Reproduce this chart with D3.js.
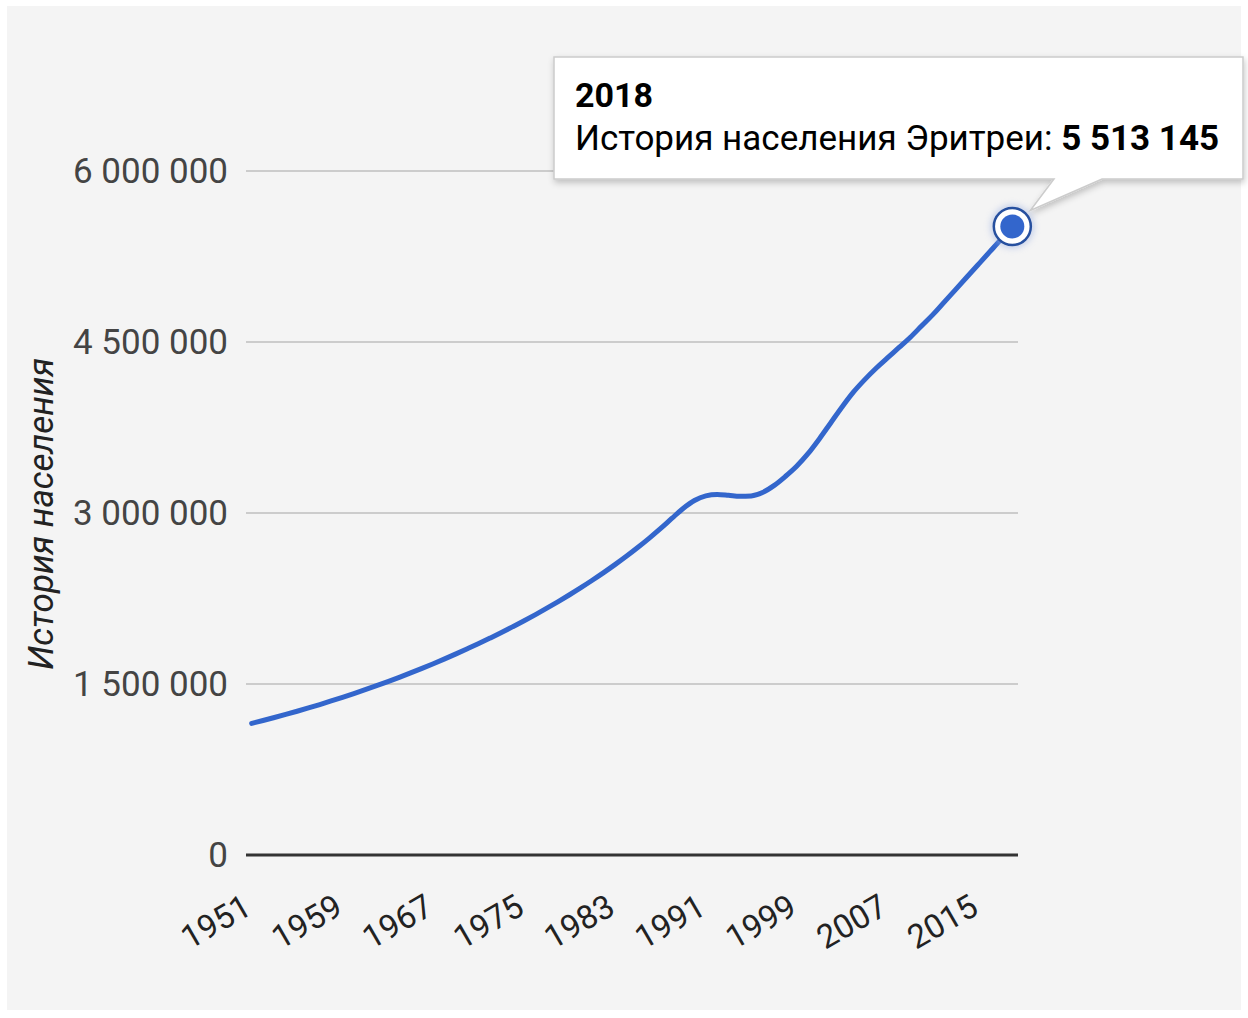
<!DOCTYPE html>
<html>
<head>
<meta charset="utf-8">
<script src="https://cdn.jsdelivr.net/npm/d3@7"></script>
<style>
  body { margin: 0; background: #ffffff; }
  text { font-family: Roboto, "Noto Sans", sans-serif; }
</style>
</head>
<body>
<svg id="chart" width="1248" height="1018"></svg>
<script>
const YEARS = d3.range(1951, 2019);
// population (one value per year 1951..2018)
const POPULATION = [
  1155000, 1180000, 1206000, 1233000, 1261000, 1290000, 1320000, 1351000, 1383000, 1416000,
  1450000, 1485000, 1521000, 1558000, 1597000, 1637000, 1678000, 1720000, 1764000, 1809000,
  1855000, 1903000, 1952000, 2003000, 2055000, 2109000, 2165000, 2223000, 2283000, 2345000,
  2410000, 2477000, 2547000, 2620000, 2697000, 2778000, 2863000, 2952000, 3040000, 3110000,
  3150000, 3162000, 3155000, 3146000, 3150000, 3180000, 3240000, 3320000, 3410000, 3520000,
  3650000, 3790000, 3930000, 4060000, 4170000, 4270000, 4360000, 4450000, 4540000, 4640000,
  4740000, 4850000, 4960000, 5070000, 5180000, 5290000, 5400000, 5513145
];
const Y_TICKS = [0, 1500000, 3000000, 4500000, 6000000];
const X_TICK_YEARS = [1951, 1959, 1967, 1975, 1983, 1991, 1999, 2007, 2015];
const Y_TITLE = "История населения";
const SERIES_NAME = "История населения Эритреи";
const HIGHLIGHT_YEAR = 2018;

const LINE_COLOR = "#3366cc";
const PLOT = { left: 246, right: 1018, top: 171, bottom: 855 };

const svg = d3.select("#chart");
const defs = svg.append("defs");

const shadow = defs.append("filter").attr("id", "shadow")
  .attr("x", "-10%").attr("y", "-20%").attr("width", "120%").attr("height", "150%");
shadow.append("feDropShadow")
  .attr("dx", 1).attr("dy", 3).attr("stdDeviation", 3)
  .attr("flood-color", "#000").attr("flood-opacity", 0.22);

const glow = defs.append("filter").attr("id", "glow")
  .attr("x", "-50%").attr("y", "-50%").attr("width", "200%").attr("height", "200%");
glow.append("feGaussianBlur").attr("stdDeviation", 3);

// background panel
svg.append("rect")
  .attr("x", 7).attr("y", 6).attr("width", 1234).attr("height", 1004)
  .attr("fill", "#f4f4f4");

const data = YEARS.map((year, i) => ({ year, value: POPULATION[i] }));

const x = d3.scalePoint()
  .domain(YEARS)
  .range([PLOT.left, PLOT.right])
  .padding(0.5);

const y = d3.scaleLinear()
  .domain([0, 6000000])
  .range([PLOT.bottom, PLOT.top]);

const locale = d3.formatLocale({ decimal: ",", thousands: " ", grouping: [3], currency: ["", ""] });
const fmt = locale.format(",d");

// gridlines
svg.append("g")
  .selectAll("line")
  .data(Y_TICKS.filter((d) => d !== 0))
  .enter()
  .append("line")
  .attr("x1", PLOT.left).attr("x2", PLOT.right)
  .attr("y1", (d) => y(d)).attr("y2", (d) => y(d))
  .attr("stroke", "#cccccc")
  .attr("stroke-width", 2);

// baseline
svg.append("line")
  .attr("x1", PLOT.left).attr("x2", PLOT.right)
  .attr("y1", y(0)).attr("y2", y(0))
  .attr("stroke", "#333333")
  .attr("stroke-width", 3);

// y tick labels
svg.append("g")
  .selectAll("text")
  .data(Y_TICKS)
  .enter()
  .append("text")
  .attr("x", 228)
  .attr("y", (d) => y(d) + 12)
  .attr("text-anchor", "end")
  .attr("font-size", "35px")
  .attr("fill", "#444444")
  .text((d) => fmt(d));

// y title
svg.append("text")
  .attr("transform", `translate(53, ${(360 + 668) / 2}) rotate(-90)`)
  .attr("text-anchor", "middle")
  .attr("font-size", "35px")
  .attr("font-style", "italic")
  .attr("fill", "#222222")
  .text(Y_TITLE);

// x tick labels, rotated
svg.append("g")
  .selectAll("text")
  .data(X_TICK_YEARS)
  .enter()
  .append("text")
  .attr("transform", (d) => `translate(${x(d) + 2}, 913) rotate(-30)`)
  .attr("text-anchor", "end")
  .attr("font-size", "33px")
  .attr("fill", "#222222")
  .text((d) => d);

// the line
const line = d3.line()
  .x((d) => x(d.year))
  .y((d) => y(d.value))
  .curve(d3.curveMonotoneX);

svg.append("path")
  .datum(data)
  .attr("d", line)
  .attr("fill", "none")
  .attr("stroke", LINE_COLOR)
  .attr("stroke-width", 5)
  .attr("stroke-linejoin", "round")
  .attr("stroke-linecap", "round");

// highlighted point
const hp = data.find((d) => d.year === HIGHLIGHT_YEAR);
const px = x(hp.year);
const py = y(hp.value);

svg.append("circle")
  .attr("cx", px).attr("cy", py).attr("r", 22)
  .attr("fill", "#9aaee0").attr("opacity", 0.5)
  .attr("filter", "url(#glow)");
svg.append("circle")
  .attr("cx", px).attr("cy", py).attr("r", 18.5)
  .attr("fill", "#ffffff")
  .attr("stroke", "#27509f")
  .attr("stroke-width", 2.5);
svg.append("circle")
  .attr("cx", px).attr("cy", py).attr("r", 12)
  .attr("fill", LINE_COLOR);

// tooltip
const tip = svg.append("g");
const box = { x: 554, y: 57, w: 689, h: 122 };

tip.append("path")
  .attr("d", `M${box.x},${box.y} H${box.x + box.w} V${box.y + box.h} H${box.x + 548}
    L${px + 18},${py - 16} L${box.x + 500},${box.y + box.h} H${box.x} Z`)
  .attr("fill", "#ffffff")
  .attr("stroke", "#cccccc")
  .attr("stroke-width", 1.5)
  .attr("filter", "url(#shadow)");

tip.append("text")
  .attr("x", box.x + 21)
  .attr("y", box.y + 50)
  .attr("font-size", "34px")
  .attr("font-weight", "bold")
  .attr("fill", "#000000")
  .text(hp.year);

const t2 = tip.append("text")
  .attr("x", box.x + 21)
  .attr("y", box.y + 93)
  .attr("font-size", "35px")
  .attr("fill", "#000000");
t2.append("tspan").text(SERIES_NAME + ": ");
t2.append("tspan").attr("font-weight", "bold").text(fmt(hp.value));
</script>
</body>
</html>
